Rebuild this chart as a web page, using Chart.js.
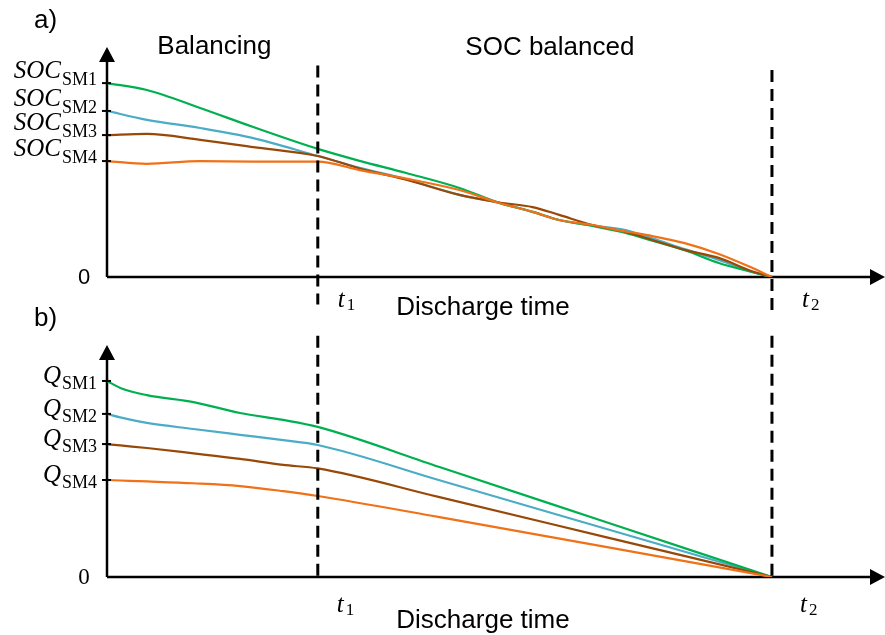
<!DOCTYPE html>
<html>
<head>
<meta charset="utf-8">
<script src="https://cdn.jsdelivr.net/npm/chart.js@4.4.0/dist/chart.umd.min.js"></script>
<style>
	html, body { margin: 0; padding: 0; background: #fff; }
	.wrap { position: relative; width: 885px; height: 635px; }
	canvas { position: absolute; left: 0; }
	#socChart { top: 0; }
	#qChart { top: 300px; }
</style>
</head>
<body>
<div class="wrap">
	<canvas id="socChart" width="885" height="322"></canvas>
	<canvas id="qChart" width="885" height="335"></canvas>
</div>
<script>
// discharge time, t2 = end of discharge
const tMarks = [31.7, 100]
const tNames = ['1', '2']
const moduleNames = ['SM1', 'SM2', 'SM3', 'SM4']

// a) state of charge of each module
const socTime = [0, 6, 14, 22, 31.7, 38, 45, 53, 59, 64, 68, 73, 78, 82, 87, 92, 97, 100]
const socSM1 = [84.3, 81.3, 73.5, 65.2, 55.7, 50.5, 45.2, 38.7, 32.2, 28.3, 24.8, 22.2, 19.2, 15.8, 11.5, 6.1, 2.2, 0]
const socSM2 = [72.2, 68.3, 64.8, 60.4, 52.6, 47.5, 42.5, 35.7, 32.2, 28.3, 24.8, 22.4, 20.4, 16.8, 12.0, 7.4, 2.2, 0]
const socSM3 = [61.7, 62.2, 59.6, 56.5, 52.6, 47.2, 42.3, 35.7, 32.4, 30.4, 27.0, 22.6, 19.6, 16.1, 11.7, 8.3, 2.5, 0]
const socSM4 = [50.4, 49.2, 50.4, 50.2, 50.2, 46.5, 42.8, 37.8, 32.2, 28.3, 24.8, 22.6, 19.8, 17.8, 14.6, 10.0, 4.0, 0]

// b) remaining charge of each module
const qTime = [0, 2, 6, 13, 20, 26.5, 31.7, 50, 75, 100]
const qSM1 = [84.5, 81.5, 78.4, 75.4, 70.7, 67.7, 64.7, 47.4, 23.7, 0]
const qSM2 = [70.3, 68.8, 66.4, 63.8, 61.3, 59.0, 56.9, 41.7, 20.8, 0]
const qSM3 = [57.3, 56.7, 55.6, 53.3, 50.9, 48.3, 46.8, 34.4, 17.2, 0]
const qSM4 = [41.8, 41.6, 41.2, 40.4, 39.2, 37.0, 34.9, 25.8, 13.0, 0]

const colors = ['#00b050', '#4bacc6', '#984807', '#f07117']
// orange on top, blue at the bottom
const drawOrder = [3, 4, 2, 1]

const toPoints = (time, values) => time.map((t, i) => ({x: t, y: values[i]}))

const buildDatasets = (time, series, dashTop, dashBottom) => {
	const sets = series.map((values, i) => ({
		data: toPoints(time, values),
		borderColor: colors[i],
		borderWidth: 2.2,
		pointRadius: 0,
		cubicInterpolationMode: 'monotone',
		order: drawOrder[i]
	}))
	tMarks.forEach((t, i) => {
		sets.push({
			data: [{x: t, y: dashTop[i]}, {x: t, y: dashBottom[i]}],
			borderColor: '#000',
			borderWidth: 3,
			borderDash: [12, 7],
			pointRadius: 0,
			clip: false,
			order: 0
		})
	})
	return sets
}

//subscripted label, e.g. SOC with SM1 below
const drawSub = (ctx, main, sub, x, y, opt) => {
	ctx.font = opt.subFont
	const sw = ctx.measureText(sub).width
	ctx.font = opt.mainFont
	const mw = ctx.measureText(main).width
	const left = opt.align == 'right' ? x - sw - mw : x
	ctx.textAlign = 'left'
	ctx.textBaseline = 'alphabetic'
	ctx.fillText(main, left, y)
	ctx.font = opt.subFont
	ctx.fillText(sub, left + mw + (opt.gap || 0), y + opt.subDy)
}

const serif = '"Liberation Serif", "DejaVu Serif", serif'
const sans = '"Liberation Sans", Arial, sans-serif'

const axesPlugin = {
	id: 'axes',
	beforeDatasetsDraw(chart) {
		const {ctx, chartArea} = chart
		const x0 = chart.scales.x.getPixelForValue(0)
		const y0 = chart.scales.y.getPixelForValue(0)
		ctx.save()
		ctx.strokeStyle = '#000'
		ctx.fillStyle = '#000'
		ctx.lineWidth = 2.5
		ctx.beginPath()
		ctx.moveTo(x0, y0)
		ctx.lineTo(x0, chartArea.top + 12)
		ctx.moveTo(x0, y0)
		ctx.lineTo(chartArea.right - 12, y0)
		ctx.stroke()
		// arrow heads
		ctx.beginPath()
		ctx.moveTo(x0, chartArea.top)
		ctx.lineTo(x0 - 8, chartArea.top + 15)
		ctx.lineTo(x0 + 8, chartArea.top + 15)
		ctx.closePath()
		ctx.fill()
		ctx.beginPath()
		ctx.moveTo(chartArea.right, y0)
		ctx.lineTo(chartArea.right - 15, y0 - 8)
		ctx.lineTo(chartArea.right - 15, y0 + 8)
		ctx.closePath()
		ctx.fill()
		ctx.restore()
	},
	afterDraw(chart, args, opts) {
		const {ctx} = chart
		const xs = chart.scales.x
		const ys = chart.scales.y
		const x0 = xs.getPixelForValue(0)
		const y0 = ys.getPixelForValue(0)
		ctx.save()
		ctx.fillStyle = '#000'
		ctx.strokeStyle = '#000'
		ctx.lineWidth = 2

		//module ticks on the y axis, at each series' starting value
		opts.series.forEach((values, i) => {
			const y = ys.getPixelForValue(values[0])
			ctx.beginPath()
			ctx.moveTo(x0 - 5, y)
			ctx.lineTo(x0 + 4, y)
			ctx.stroke()
			drawSub(ctx, opts.symbol, moduleNames[i], x0 - 11, y + opts.labelDy, {
				align: 'right',
				mainFont: 'italic 25px ' + serif,
				subFont: '18px ' + serif,
				subDy: opts.subDy,
				gap: 1
			})
		})

		ctx.font = opts.zeroFont
		ctx.textAlign = 'center'
		ctx.textBaseline = 'alphabetic'
		ctx.fillText('0', x0 - 23, y0 + 7)

		//t1, t2 under the axis
		tMarks.forEach((t, i) => {
			drawSub(ctx, 't', tNames[i], xs.getPixelForValue(t) + opts.tOffset[i], y0 + opts.tDy, {
				align: 'left',
				mainFont: 'italic 25px ' + serif,
				subFont: '17px ' + serif,
				subDy: 3,
				gap: 2
			})
		})

		ctx.font = '26px ' + sans
		ctx.textAlign = 'center'
		ctx.fillText('Discharge time', 483, y0 + opts.titleDy)

		ctx.textAlign = 'left'
		ctx.fillText(opts.panel, 34, opts.panelY)

		if (opts.phases) {
			const t1 = xs.getPixelForValue(tMarks[0])
			const t2 = xs.getPixelForValue(tMarks[1])
			ctx.textAlign = 'center'
			ctx.fillText('Balancing', (x0 + t1) / 2 + 2, 54)
			ctx.fillText('SOC balanced', (t1 + t2) / 2 + 5, 55)
		}
		ctx.restore()
	}
}

const makeChart = (id, datasets, padding, axesOpts) => {
	const canvas = document.getElementById(id)
	return new Chart(canvas, {
		type: 'line',
		data: {datasets: datasets},
		options: {
			responsive: false,
			animation: false,
			layout: {padding: padding},
			plugins: {
				legend: {display: false},
				tooltip: {enabled: false},
				axes: axesOpts
			},
			scales: {
				x: {type: 'linear', min: 0, max: 117, display: false},
				y: {type: 'linear', min: 0, max: 100, display: false}
			}
		},
		plugins: [axesPlugin]
	})
}

const socSeries = [socSM1, socSM2, socSM3, socSM4]
makeChart('socChart',
	buildDatasets(socTime, socSeries, [92, 90], [-12, -16]),
	{left: 107, right: 0, top: 47, bottom: 45},
	{
		series: socSeries,
		symbol: 'SOC',
		labelDy: -5,
		subDy: 7,
		zeroFont: '22px ' + sans,
		tOffset: [20, 30],
		tDy: 30,
		titleDy: 38,
		panel: 'a)',
		panelY: 28,
		phases: true
	})

const qSeries = [qSM1, qSM2, qSM3, qSM4]
makeChart('qChart',
	buildDatasets(qTime, qSeries, [104, 104], [0, -2]),
	{left: 107, right: 0, top: 45, bottom: 58},
	{
		series: qSeries,
		symbol: 'Q',
		labelDy: 2,
		subDy: 6,
		zeroFont: '23px ' + serif,
		tOffset: [19, 28],
		tDy: 35,
		titleDy: 51,
		panel: 'b)',
		panelY: 26
	})
</script>
</body>
</html>
